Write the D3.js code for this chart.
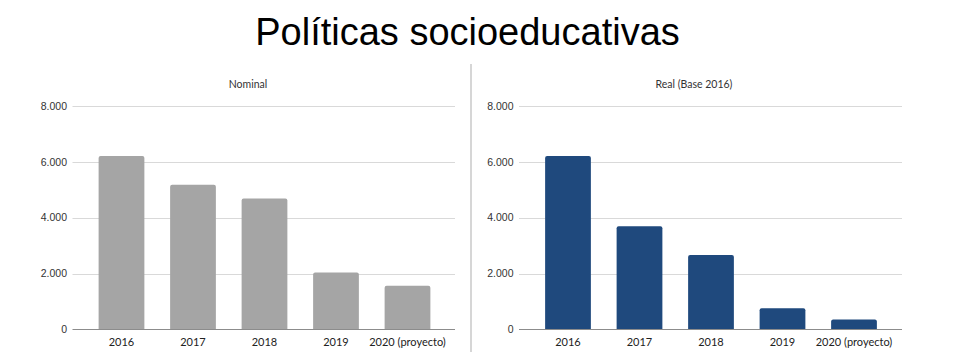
<!DOCTYPE html>
<html>
<head>
<meta charset="utf-8">
<script src="https://cdn.jsdelivr.net/npm/d3@7"></script>
<style>
  body { margin: 0; background: #fff; }
  svg { display: block; }
</style>
</head>
<body>
<div id="chart"></div>
<script>
// data
var years = ["2016", "2017", "2018", "2019", "2020 (proyecto)"];
var nominal = [6210, 5180, 4690, 2040, 1570];
var real = [6210, 3700, 2670, 760, 360];
var yTicks = [0, 2000, 4000, 6000, 8000];

var W = 960, H = 352;

var svg = d3.select("#chart")
    .append("svg")
    .attr("width", W)
    .attr("height", H);

// main title
svg.append("text")
    .attr("x", 467.5)
    .attr("y", 44.5)
    .attr("text-anchor", "middle")
    .style("font-family", "'Liberation Sans', Arial, sans-serif")
    .style("font-size", "38px")
    .attr("fill", "#000")
    .text("Políticas socioeducativas");

// divider between the two panels
svg.append("line")
    .attr("x1", 471).attr("x2", 471)
    .attr("y1", 64).attr("y2", H)
    .attr("stroke", "#c8c8c8")
    .attr("stroke-width", 1.5);

var fmt = d3.format(",");
function tickFmt(d) { return fmt(d).replace(/,/g, "."); }

// one panel
function panel(opt) {
    var g = svg.append("g");

    var y = d3.scaleLinear()
        .domain([0, 8000])
        .range([329.5, 106]);

    var x = d3.scaleBand()
        .domain(years)
        .range([opt.bandLeft, opt.bandLeft + 357.5])
        .paddingInner(0.36)
        .paddingOuter(0.18);

    // gridlines
    g.selectAll(".grid")
        .data(yTicks.filter(d => d > 0))
        .enter()
        .append("line")
        .attr("x1", opt.gridLeft)
        .attr("x2", opt.gridRight)
        .attr("y1", d => Math.round(y(d)) + 0.5)
        .attr("y2", d => Math.round(y(d)) + 0.5)
        .attr("stroke", "#d9d9d9")
        .attr("stroke-width", 1);

    // y tick labels
    g.selectAll(".ylab")
        .data(yTicks)
        .enter()
        .append("text")
        .attr("x", opt.labelRight)
        .attr("y", d => y(d))
        .attr("dy", "0.35em")
        .attr("text-anchor", "end")
        .style("font-family", "'Liberation Sans', Arial, sans-serif")
        .style("font-size", "10.5px")
        .attr("fill", "#333")
        .text(tickFmt);

    // bars with slightly rounded tops
    g.selectAll(".bar")
        .data(opt.values)
        .enter()
        .append("path")
        .attr("fill", opt.color)
        .attr("d", function (d, i) {
            var x0 = x(years[i]), x1 = x0 + x.bandwidth();
            var yt = y(d), yb = y(0), r = 2;
            return "M" + x0 + "," + yb +
                "V" + (yt + r) +
                "Q" + x0 + "," + yt + " " + (x0 + r) + "," + yt +
                "H" + (x1 - r) +
                "Q" + x1 + "," + yt + " " + x1 + "," + (yt + r) +
                "V" + yb + "Z";
        });

    // baseline
    g.append("line")
        .attr("x1", opt.gridLeft)
        .attr("x2", opt.gridRight)
        .attr("y1", y(0))
        .attr("y2", y(0))
        .attr("stroke", "#8c8c8c")
        .attr("stroke-width", 1.2);

    // category labels
    g.selectAll(".xlab")
        .data(years)
        .enter()
        .append("text")
        .attr("x", d => x(d) + x.bandwidth() / 2)
        .attr("y", 345.5)
        .attr("text-anchor", "middle")
        .style("font-family", "Lato, 'Open Sans', sans-serif")
        .style("font-size", "11px")
        .attr("fill", "#222")
        .text(d => d);

    // panel title
    g.append("text")
        .attr("x", opt.titleX)
        .attr("y", 88)
        .attr("text-anchor", "middle")
        .style("font-family", "Lato, 'Open Sans', sans-serif")
        .style("font-size", "10.5px")
        .attr("fill", "#333")
        .text(opt.title);
}

panel({
    title: "Nominal",
    titleX: 248,
    values: nominal,
    color: "#a5a5a5",
    bandLeft: 85.75,
    gridLeft: 72.5,
    gridRight: 455,
    labelRight: 67
});

panel({
    title: "Real (Base 2016)",
    titleX: 694,
    values: real,
    color: "#1f497d",
    bandLeft: 532.25,
    gridLeft: 519,
    gridRight: 902,
    labelRight: 513.5
});
</script>
</body>
</html>
